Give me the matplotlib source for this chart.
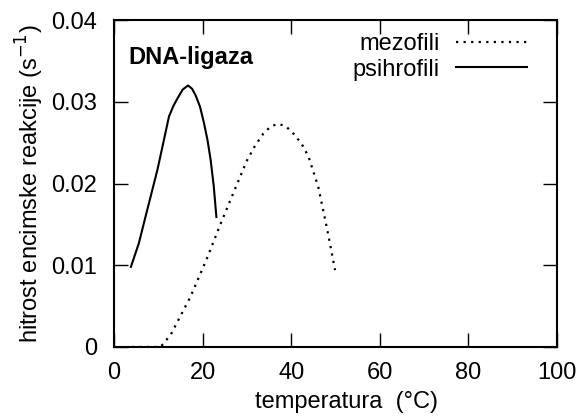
import numpy as np
import matplotlib
matplotlib.use('Agg')
import matplotlib.pyplot as plt

plt.rcParams['font.family'] = ['Liberation Sans', 'DejaVu Sans']

# psihrofili (solid)
t_psi = [3.8, 5.6, 6.8, 8.3, 9.8, 11.2, 12.4, 13.4, 14.3, 15.5, 16.7, 17.6, 18.4, 19.4, 20.3, 21.1, 21.8, 22.5, 23.1]
v_psi = [0.0098, 0.0127, 0.0153, 0.0185, 0.0217, 0.0252, 0.0282, 0.0295, 0.0304, 0.0315, 0.0320, 0.0316, 0.0308, 0.0294, 0.0274, 0.0253, 0.0229, 0.0197, 0.0159]

# mezofili (dotted)
t_mez = [4.0, 10.5, 12.8, 15.0, 17.3, 19.2, 21.1, 24.0, 26.9, 29.9, 31.8, 33.7, 35.4, 37.1, 38.8, 40.5, 42.3, 43.9, 46.1, 48.0, 49.9]
v_mez = [0.0, 0.0, 0.0015, 0.0038, 0.0062, 0.0086, 0.0110, 0.0150, 0.0188, 0.0227, 0.0246, 0.0261, 0.0270, 0.0273, 0.0270, 0.0261, 0.0249, 0.0233, 0.0196, 0.0147, 0.0094]

xticks = [0, 20, 40, 60, 80, 100]
yticks = [0, 0.01, 0.02, 0.03, 0.04]
ytick_labels = ['0', '0.01', '0.02', '0.03', '0.04']

fig = plt.figure(figsize=(5.82, 4.18), dpi=100)
ax = fig.add_axes([0.196, 0.170, 0.761, 0.782])

ax.plot(t_mez, v_mez, color='black', lw=1.6, linestyle=(0, (1.0, 2.4)), label='mezofili')
ax.plot(t_psi, v_psi, color='black', lw=1.5, label='psihrofili')

ax.set_xlim(0, 100)
ax.set_ylim(0, 0.04)
ax.set_xticks(xticks)
ax.set_yticks(yticks)
ax.set_yticklabels(ytick_labels)
ax.tick_params(direction='in', length=10, width=1, top=True, right=True, labelsize=17)
ax.tick_params(axis='x', pad=11)
ax.tick_params(axis='y', pad=12)
for s in ax.spines.values():
    s.set_linewidth(1.5)

ax.set_xlabel('temperatura  (°C)', fontsize=17, labelpad=6)
ax.xaxis.set_label_coords(0.524, -0.135)
ax.set_ylabel('hitrost encimske reakcije (s$^{-1}$)', fontsize=17, labelpad=4)

ax.text(0.032, 0.884, 'DNA-ligaza', transform=ax.transAxes, fontsize=17,
        fontweight='bold', va='center', ha='left')

ax.legend(loc='upper right', bbox_to_anchor=(0.932, 0.96), frameon=False, fontsize=17,
          markerfirst=False, handlelength=3.0, handletextpad=0.7, labelspacing=0.15,
          borderaxespad=0, borderpad=0)

fig.savefig('out.png', dpi=100)
